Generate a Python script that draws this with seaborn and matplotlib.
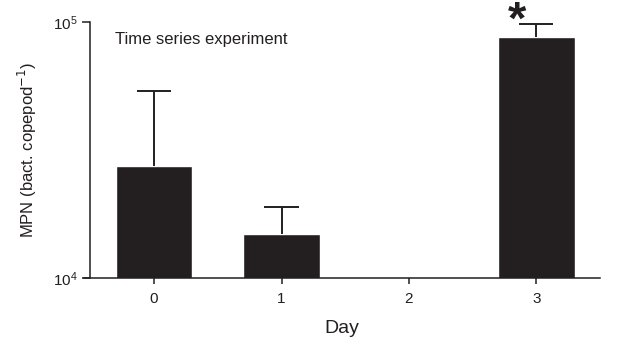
import seaborn as sns
import matplotlib.pyplot as plt
import numpy as np
import pandas as pd

days = [0, 1, 2, 3]
mpn = [27400, 14800, np.nan, 87000]
err_upper = [26600, 4100, np.nan, 11200]

sns.set_style('ticks')
plt.rcParams['font.family'] = ['Liberation Sans', 'DejaVu Sans']

df = pd.DataFrame({'Day': days, 'MPN': mpn})

fig, ax = plt.subplots(figsize=(6.27, 3.55), dpi=100)
fig.subplots_adjust(left=0.134, right=0.957, bottom=0.217, top=0.938)

sns.barplot(data=df, x='Day', y='MPN', order=days, color='#231f20',
            saturation=1, width=0.6, errorbar=None, ax=ax)

# upper error bars only
pos = np.arange(len(days))
tops = np.array(mpn) + np.array(err_upper)
ax.vlines(pos, mpn, tops, color='#231f20', linewidth=1.4)
ax.hlines(tops, pos - 0.134, pos + 0.134, color='#231f20', linewidth=1.4)

ax.set_yscale('log')
ax.set_ylim(1e4, 1e5)
ax.set_xlim(-0.55, 3.5)
ax.set_yticks([1e4, 1e5])
ax.yaxis.set_minor_locator(plt.NullLocator())

sns.despine(ax=ax)
ax.spines['left'].set_position(('data', -0.5))
for s in ['left', 'bottom']:
    ax.spines[s].set_linewidth(1.1)
    ax.spines[s].set_color('#231f20')
ax.tick_params(axis='y', length=6, width=1.1, labelsize=11, colors='#231f20')
ax.tick_params(axis='x', length=4, width=1.1, labelsize=11, colors='#231f20', pad=6)

ax.set_xlabel('Day', fontsize=14, labelpad=10, color='#231f20')
ax.set_ylabel('MPN (bact. copepod$^{-1}$)', fontsize=12, labelpad=10, color='#231f20')

ax.text(0.06, 0.93, 'Time series experiment', transform=ax.transAxes,
        fontsize=12, ha='left', va='center', color='#231f20')
ax.text(2.85, 1.0e5, '*', fontsize=34, fontweight='bold', ha='center',
        va='center', color='#231f20', clip_on=False)

fig.savefig('out.png', dpi=100)
